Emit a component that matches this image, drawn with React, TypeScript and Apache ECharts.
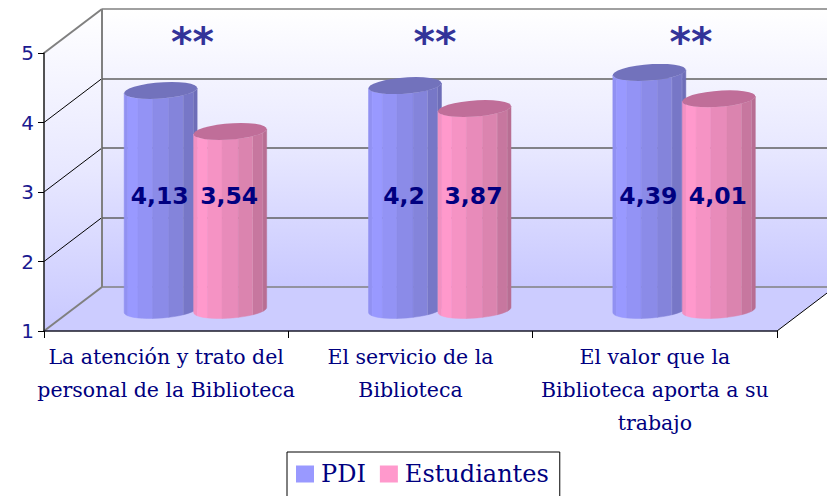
import React, { useEffect, useRef } from "react";
import * as echarts from "echarts";

const categories = [
  "La atención y trato del\npersonal de la Biblioteca",
  "El servicio de la\nBiblioteca",
  "El valor que la\nBiblioteca aporta a su\ntrabajo",
];
const pdiValues = [4.13, 4.2, 4.39];
const estudiantesValues = [3.54, 3.87, 4.01];
const yTicks = [1, 2, 3, 4, 5];

const TEXT = "#000080";
const SERIF = "'DejaVu Serif', serif";
const SANS = "'DejaVu Sans', sans-serif";
const L = 44, R = 777, T = 53, B = 331;
const DX = 58, DY = -44;
const unit = (B - T) / 4;

const shades = (r: number, g: number, b: number) =>
  [0.95, 1, 0.96, 0.91, 0.86, 0.78, 0.72].map(
    (f) => `rgb(${Math.round(r * f)},${Math.round(g * f)},${Math.round(b * f)})`
  );
const palette = {
  pdi: { strips: shades(153, 153, 255), top: "#7272bc" },
  est: { strips: shades(255, 153, 204), top: "#c06e99" },
};

const A = 34.8, Bs = 11, C = 8.5;
const ang = Math.atan(Bs / A);
const ringPoint = (cx: number, cy: number, t: number) => [
  cx + A * Math.cos(t) - Bs * Math.sin(t),
  cy + C * Math.sin(t),
];

const cylinder = (p: { strips: string[]; top: string }, shift: number) => (_: any, api: any) => {
  const cat = api.value(0);
  const val = api.value(1);
  const topPt = api.coord([cat, val]);
  const basePt = api.coord([cat, 1]);
  const cx = topPt[0] + 29 + shift;
  const topY = topPt[1] - 23;
  const baseY = basePt[1] - 21;
  const children: any[] = [];
  const n = p.strips.length;
  const sub = 3;
  for (let i = 0; i < n; i++) {
    const pts: number[][] = [];
    const bot: number[][] = [];
    for (let k = 0; k <= sub; k++) {
      const t = -ang + (Math.PI * (n - 1 - i + 1 - k / sub)) / n;
      pts.push(ringPoint(cx, topY, t));
      bot.push(ringPoint(cx, baseY, t));
    }
    children.push({
      type: "polygon",
      shape: { points: [...pts, ...bot.reverse()] },
      style: { fill: p.strips[i], stroke: p.strips[i], lineWidth: 0.5 },
    });
    if (i === 4 || i === 5) {
      const a = pts[pts.length - 1];
      const b = bot[0];
      children.push({
        type: "line",
        shape: { x1: a[0], y1: a[1], x2: b[0], y2: b[1] },
        style: { stroke: "rgba(255,255,255,0.35)", lineWidth: 1 },
      });
    }
  }
  const ring: number[][] = [];
  for (let k = 0; k < 28; k++) ring.push(ringPoint(cx, topY, (2 * Math.PI * k) / 28));
  children.push({ type: "polygon", shape: { points: ring }, style: { fill: p.top } });
  children.push({
    type: "text",
    z2: 50,
    x: cx - 1,
    y: api.coord([cat, 3])[1] + 4,
    style: {
      text: String(val).replace(".", ","),
      fill: TEXT,
      font: `bold 23.5px ${SANS}`,
      textAlign: "center",
      textVerticalAlign: "middle",
    },
  });
  return { type: "group", children };
};

const wallGradient = {
  type: "linear",
  x: 0,
  y: 0,
  x2: 0,
  y2: 1,
  colorStops: [
    { offset: 0, color: "#ffffff" },
    { offset: 0.5, color: "#e8e8ff" },
    { offset: 1, color: "#c8c8ff" },
  ],
};

const line = (x1: number, y1: number, x2: number, y2: number, stroke: string, lineWidth: number) => ({
  type: "line",
  z: -5,
  shape: { x1, y1, x2, y2 },
  style: { stroke, lineWidth },
});

export default function App() {
  const ref = useRef<HTMLDivElement>(null);
  useEffect(() => {
    document.body.style.margin = "0";
    document.body.style.overflow = "hidden";
    const chart = echarts.init(ref.current!, undefined, { renderer: "svg" });
    const diagonals = yTicks.map((t, i) => {
      const y = B - (t - 1) * unit;
      const grey = i === yTicks.length - 1 || i === 0;
      return line(L, y, L + DX, y + DY, grey ? "#808080" : "#000000", grey ? 2 : 1);
    });
    chart.setOption({
      animation: false,
      color: ["#9999ff", "#ff99cc"],
      textStyle: { fontFamily: SERIF },
      grid: [
        { left: L, top: T, width: R - L, height: B - T },
        { left: L + DX, top: T + DY, width: R - L + 2, height: B - T },
      ],
      xAxis: [
        {
          type: "category",
          gridIndex: 0,
          data: categories,
          axisLine: { show: true, lineStyle: { color: "#1a1a2a", width: 1.5 } },
          axisTick: { show: true, length: 7, lineStyle: { color: "#000" } },
          axisLabel: {
            color: TEXT,
            fontFamily: SERIF,
            fontSize: 20.5,
            lineHeight: 33,
            margin: 9,
            interval: 0,
          },
        },
        { type: "category", gridIndex: 1, data: categories, show: false },
      ],
      yAxis: [
        {
          type: "value",
          gridIndex: 0,
          min: 1,
          max: 5,
          interval: 1,
          axisLine: { show: true, lineStyle: { color: "#1a1a1a", width: 1.5 } },
          axisTick: { show: true, length: 6, lineStyle: { color: "#000" } },
          axisLabel: { color: "#1a1a90", fontFamily: SANS, fontSize: 20, margin: 10 },
          splitLine: { show: false },
        },
        {
          type: "value",
          gridIndex: 1,
          min: 1,
          max: 5,
          interval: 1,
          axisLine: { show: false },
          axisTick: { show: false },
          axisLabel: { show: false },
          splitLine: {
            show: true,
            lineStyle: { color: ["#808080", "#606060", "#606060", "#606060", "#808080"], width: 1.5 },
          },
        },
      ],
      legend: {
        left: 287,
        top: 452,
        orient: "horizontal",
        data: ["PDI", "Estudiantes"],
        icon: "rect",
        itemWidth: 18,
        itemHeight: 17,
        itemGap: 14,
        padding: [10, 11, 30, 9],
        borderColor: "#000",
        borderWidth: 1,
        backgroundColor: "#fff",
        textStyle: { color: TEXT, fontFamily: SERIF, fontSize: 24, padding: [0, 0, 5, 2] },
      },
      graphic: [
        {
          type: "polygon",
          z: -10,
          shape: { points: [[L + DX, T + DY], [R + DX, T + DY], [R + DX, B + DY], [L + DX, B + DY]] },
          style: { fill: wallGradient },
        },
        {
          type: "polygon",
          z: -10,
          shape: { points: [[L, T], [L + DX, T + DY], [L + DX, B + DY], [L, B]] },
          style: { fill: wallGradient },
        },
        {
          type: "polygon",
          z: -9,
          shape: { points: [[L, B], [L + DX, B + DY], [R + DX, B + DY], [R, B]] },
          style: { fill: "#ccccff" },
        },
        ...diagonals,
        line(L + DX, T + DY, L + DX, B + DY, "#808080", 2),
        line(R, B, R + DX, B + DY, "#000000", 1),
        ...[192.5, 435, 691].map((x) => ({
          type: "text",
          z: 5,
          x,
          y: 42,
          style: {
            text: "**",
            fill: "#333399",
            font: `bold 41px ${SANS}`,
            textAlign: "center",
            textVerticalAlign: "middle",
          },
        })),
      ],
      series: [
        {
          name: "PDI",
          type: "custom",
          xAxisIndex: 0,
          yAxisIndex: 0,
          clip: false,
          z: 3,
          renderItem: cylinder(palette.pdi, -34.5),
          encode: { x: 0, y: 1 },
          data: pdiValues.map((v, i) => [i, v]),
        },
        {
          name: "Estudiantes",
          type: "custom",
          xAxisIndex: 0,
          yAxisIndex: 0,
          clip: false,
          z: 4,
          renderItem: cylinder(palette.est, 35),
          encode: { x: 0, y: 1 },
          data: estudiantesValues.map((v, i) => [i, v]),
        },
      ],
    });
    return () => chart.dispose();
  }, []);
  return <div ref={ref} style={{ width: 827, height: 496 }} />;
}
